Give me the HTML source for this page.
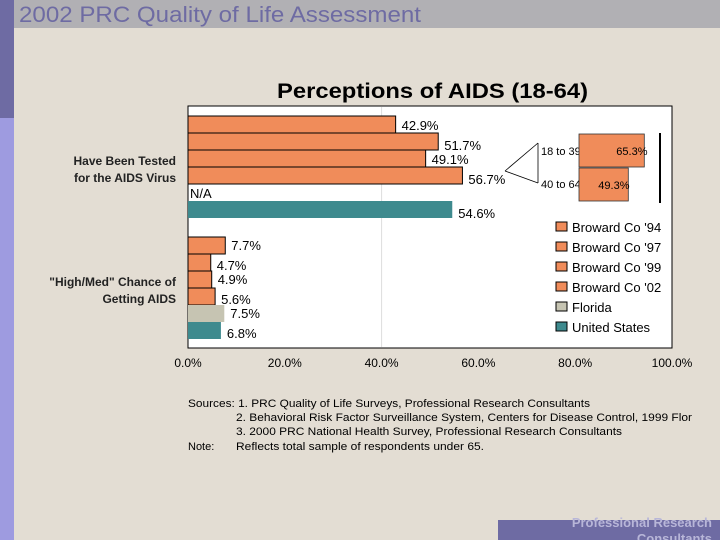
<!DOCTYPE html>
<html><head><meta charset="utf-8"><style>
body{margin:0;width:720px;height:540px;overflow:hidden;background:#e3ddd3;font-family:"Liberation Sans",sans-serif;}
svg{display:block}
</style></head><body>
<svg id="c" width="720" height="540" xmlns="http://www.w3.org/2000/svg">
<rect x="0" y="0" width="720" height="540" fill="#e3ddd3"/>
<rect x="0" y="0" width="14" height="118" fill="#6e6ba3"/>
<rect x="0" y="118" width="14" height="422" fill="#9e9be0"/>
<rect x="14" y="0" width="706" height="28" fill="#b1b0b4"/>
<text x="19" y="22" font-size="22" fill="#6e6ba3" textLength="402" lengthAdjust="spacingAndGlyphs">2002 PRC Quality of Life Assessment</text>
<text x="277" y="98" font-size="21" font-weight="bold" fill="#000" textLength="311" lengthAdjust="spacingAndGlyphs">Perceptions of AIDS (18-64)</text>
<rect x="188" y="106" width="484" height="242" fill="#fff" stroke="#000" stroke-width="1"/>
<g id="grid"></g><g id="bars"></g><g id="ticks"></g>
<text x="176" y="165" font-size="12" font-weight="bold" fill="#222" text-anchor="end">Have Been Tested</text>
<text x="176" y="182" font-size="12" font-weight="bold" fill="#222" text-anchor="end">for the AIDS Virus</text>
<text x="176" y="286" font-size="12" font-weight="bold" fill="#222" text-anchor="end">"High/Med" Chance of</text>
<text x="176" y="303" font-size="12" font-weight="bold" fill="#222" text-anchor="end">Getting AIDS</text>
<text x="190" y="198" font-size="13">N/A</text>
<g>
<line x1="505" y1="171" x2="538" y2="143" stroke="#000" stroke-width="0.8"/>
<line x1="505" y1="171" x2="538" y2="183" stroke="#000" stroke-width="0.8"/>
<line x1="538" y1="143" x2="538" y2="183" stroke="#000" stroke-width="0.8"/>
<rect x="578" y="133" width="82" height="69" fill="#fff"/>
<line x1="660" y1="133" x2="660" y2="203" stroke="#000" stroke-width="2"/>
<text x="541" y="155" font-size="11">18 to 39</text>
<text x="541" y="188" font-size="11">40 to 64</text>
<g id="inset"></g>
</g>
<g id="legend"></g>
<g font-size="11" fill="#000">
<text x="188" y="407" textLength="402" lengthAdjust="spacingAndGlyphs">Sources: 1. PRC Quality of Life Surveys, Professional Research Consultants</text>
<text x="236" y="421" textLength="456" lengthAdjust="spacingAndGlyphs">2. Behavioral Risk Factor Surveillance System, Centers for Disease Control, 1999 Flor</text>
<text x="236" y="435" textLength="386" lengthAdjust="spacingAndGlyphs">3. 2000 PRC National Health Survey, Professional Research Consultants</text>
<text x="188" y="450">Note:</text>
<text x="236" y="450" textLength="248" lengthAdjust="spacingAndGlyphs">Reflects total sample of  respondents under 65.</text>
</g>
<rect x="498" y="520" width="222" height="20" fill="#6e6ba3"/>
<text x="712" y="527" font-size="13" font-weight="bold" fill="#b8b6d8" text-anchor="end">Professional Research</text>
<text x="712" y="543" font-size="13" font-weight="bold" fill="#b8b6d8" text-anchor="end">Consultants</text>
</svg>
<script>
const seriesNames=["Broward Co '94","Broward Co '97","Broward Co '99","Broward Co '02","Florida","United States"];
const seriesColors=["#f08c5a","#f08c5a","#f08c5a","#f08c5a","#c6c4b2","#3e8a8e"];
const testedValues=[42.9,51.7,49.1,56.7,null,54.6];
const chanceValues=[7.7,4.7,4.9,5.6,7.5,6.8];
const insetLabels=["18 to 39","40 to 64"];
const insetValues=[65.3,49.3];
const tickValues=[0,20,40,60,80,100];
const NS="http://www.w3.org/2000/svg";
const x0=188,pxPer=4.84;
function xs(v){return x0+v*pxPer;}
function mk(t,a,p){const e=document.createElementNS(NS,t);for(const k in a)e.setAttribute(k,a[k]);p.appendChild(e);return e;}
const grid=document.getElementById('grid');
const gl=mk('line',{x1:xs(40),x2:xs(40),y1:107,y2:347,stroke:'#ddd','stroke-width':1},grid);


const ticks=document.getElementById('ticks');
tickValues.forEach(v=>{const t=mk('text',{x:xs(v),y:367,'font-size':12,'text-anchor':'middle'},ticks);t.textContent=v.toFixed(1)+'%';

});
const bars=document.getElementById('bars');
function group(vals,y0,name){vals.forEach((v,i)=>{if(v==null)return;const y=y0+i*17;
const r=mk('rect',{x:x0,y:y,width:v*pxPer,height:17,fill:seriesColors[i],stroke:i<4?'#000':'none','stroke-width':1},bars);


const t=mk('text',{x:xs(v)+6,y:y+(name==='tested'?14:13)+(i%2?3:0),'font-size':13},bars);t.textContent=v.toFixed(1)+'%';

});}
group(testedValues,116,'tested');
group(chanceValues,237,'chance');
const inset=document.getElementById('inset');
const ipx=1.0;
insetValues.forEach((v,i)=>{const y=134+i*34;
const r=mk('rect',{x:579,y:y,width:v*ipx,height:33,fill:'#f08c5a',stroke:'#333','stroke-width':0.8},inset);


const t=mk('text',{x:579+v*ipx-(i?30:28),y:y+21,'font-size':11},inset);t.textContent=v.toFixed(1)+'%';

});
const lg=document.getElementById('legend');
seriesNames.forEach((n,i)=>{const y=222+i*20;
const s=mk('rect',{x:556,y:y,width:11,height:9,fill:seriesColors[i],stroke:'#000','stroke-width':1},lg);


const t=mk('text',{x:572,y:y+10,'font-size':13},lg);t.textContent=n;

});
</script>
</body></html>
